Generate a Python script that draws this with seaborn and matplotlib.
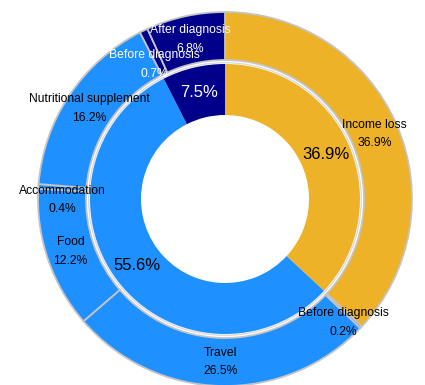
import matplotlib
matplotlib.use("Agg")
import matplotlib.pyplot as plt
import seaborn as sns
import numpy as np

# Inner ring: share of each cost group
inner_values = [36.9, 55.6, 7.5]
inner_text_colors = ["black", "black", "white"]

# Outer ring: breakdown of each group
outer_labels = ["Income loss", "Before diagnosis", "Travel", "Food",
                "Accommodation", "Nutritional supplement",
                "Before diagnosis", "After diagnosis"]
outer_values = [36.9, 0.2, 26.5, 12.2, 0.4, 16.2, 0.7, 6.8]
outer_group = [0, 1, 1, 1, 1, 1, 2, 2]

sns.set_style("white")
plt.rcParams["font.family"] = ["Liberation Sans", "DejaVu Sans"]

palette = sns.color_palette(["#EDB227", "#1E90FF", "#00008B"])
text_on = ["black", "black", "white"]

fig = plt.figure(figsize=(4.25, 3.85), dpi=100)
ax = fig.add_axes([0, 0, 1, 1])

cx, cy = 225, 186

outer_wedges, _ = ax.pie(
    outer_values, colors=[palette[g] for g in outer_group],
    radius=187, center=(cx, cy), startangle=90, counterclock=False,
    wedgeprops=dict(width=48, edgecolor="#c4c4c4", linewidth=1.3),
)

inner_wedges, _, inner_texts = ax.pie(
    inner_values, colors=palette, radius=135, center=(cx, cy),
    startangle=90, counterclock=False, autopct="%.1f%%", pctdistance=0.815,
    wedgeprops=dict(width=51, linewidth=0),
    textprops=dict(fontsize=12),
)
for t, c in zip(inner_texts, inner_text_colors):
    t.set_color(c)

# soft shadow line around the inner ring
ax.add_patch(plt.Circle((cx, cy), 136.3, fill=False, ec="#dadada", lw=1.0))

for w, lab, val, g in zip(outer_wedges, outer_labels, outer_values, outer_group):
    ang = np.deg2rad((w.theta1 + w.theta2) / 2)
    x = cx + 163 * np.cos(ang)
    y = cy + 163 * np.sin(ang)
    if val < 1:
        # labels of very thin slices sit a little lower
        y -= 12
    ax.text(x, y, f"{lab}\n{val}%", ha="center", va="center",
            fontsize=8.7, linespacing=1.75, color=text_on[g])

ax.set_xlim(0, 425)
ax.set_ylim(0, 385)
ax.set_aspect("equal")
ax.axis("off")

fig.savefig("out.png", dpi=100)
